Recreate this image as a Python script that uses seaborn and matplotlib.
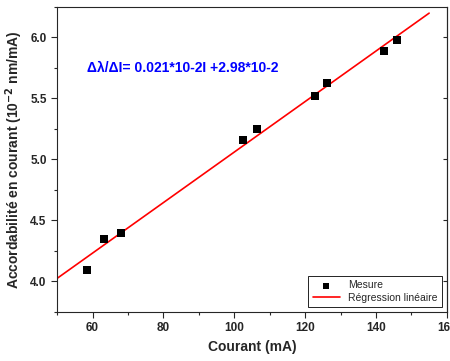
import numpy as np
import pandas as pd
import matplotlib
matplotlib.use('Agg')
import matplotlib.pyplot as plt
import seaborn as sns
from matplotlib.ticker import MultipleLocator

# measured points
courant = [58.5, 63.3, 68.0, 102.5, 106.5, 122.7, 126.3, 142.3, 145.9]
accord = [4.09, 4.35, 4.40, 5.16, 5.25, 5.52, 5.63, 5.89, 5.98]

# linear regression (as drawn)
pente = 0.0207
origine = 2.99
fit_x = [50, 155]

sns.set_style('ticks')
plt.rcParams['font.family'] = ['Liberation Sans', 'DejaVu Sans']

df = pd.DataFrame({'Courant': courant, 'Accord': accord})
fit = pd.DataFrame({'x': fit_x, 'y': [pente * v + origine for v in fit_x]})

fig = plt.figure(figsize=(4.5, 3.61), dpi=100)
ax = fig.add_axes([0.127, 0.136, 0.866, 0.845])

sns.lineplot(data=fit, x='x', y='y', color='red', linewidth=1.2, ax=ax,
             label='Régression linéaire')
sns.scatterplot(data=df, x='Courant', y='Accord', marker='s', color='black',
                s=30, edgecolor='black', linewidth=0, ax=ax, label='Mesure', zorder=3)

ax.set_xlim(50, 160)
ax.set_ylim(3.75, 6.25)
ax.xaxis.set_major_locator(MultipleLocator(20))
ax.xaxis.set_minor_locator(MultipleLocator(10))
ax.yaxis.set_major_locator(MultipleLocator(0.5))
ax.yaxis.set_minor_locator(MultipleLocator(0.25))
ax.yaxis.set_major_formatter(matplotlib.ticker.FormatStrFormatter('%.1f'))
ax.tick_params(which='both', direction='out', labelsize=8.5, width=0.8)
ax.tick_params(which='major', length=4)
ax.tick_params(which='minor', length=2.5)
for lab in ax.get_xticklabels() + ax.get_yticklabels():
    lab.set_fontweight('bold')
for sp in ax.spines.values():
    sp.set_visible(True)
    sp.set_linewidth(0.8)

ax2 = ax.secondary_yaxis('right')
ax2.yaxis.set_major_locator(MultipleLocator(0.5))
ax2.yaxis.set_minor_locator(MultipleLocator(0.25))
ax2.tick_params(which='both', direction='in', labelright=False)
ax2.tick_params(which='major', length=3)
ax2.tick_params(which='minor', length=0)

ax.set_xlabel('Courant (mA)', fontsize=10, fontweight='bold')
ax.set_ylabel('Accordabilité en courant (10$^{\\mathbf{-2}}$ nm/mA)', fontsize=10,
              fontweight='bold')

ax.text(58.5, 5.75, 'Δλ/ΔI= 0.021*10-2I +2.98*10-2', color='#0000ff',
        fontsize=10, fontweight='bold', va='center')

handles, labels = ax.get_legend_handles_labels()
order = [labels.index('Mesure'), labels.index('Régression linéaire')]
ax.legend([handles[i] for i in order], [labels[i] for i in order],
          loc='lower right', fontsize=7.5, frameon=True, fancybox=False,
          edgecolor='black', framealpha=1, borderpad=0.4, handlelength=2.6,
          labelspacing=0.2, markerscale=0.8)
ax.get_legend().get_frame().set_linewidth(0.6)

fig.savefig('out.png', dpi=100)
